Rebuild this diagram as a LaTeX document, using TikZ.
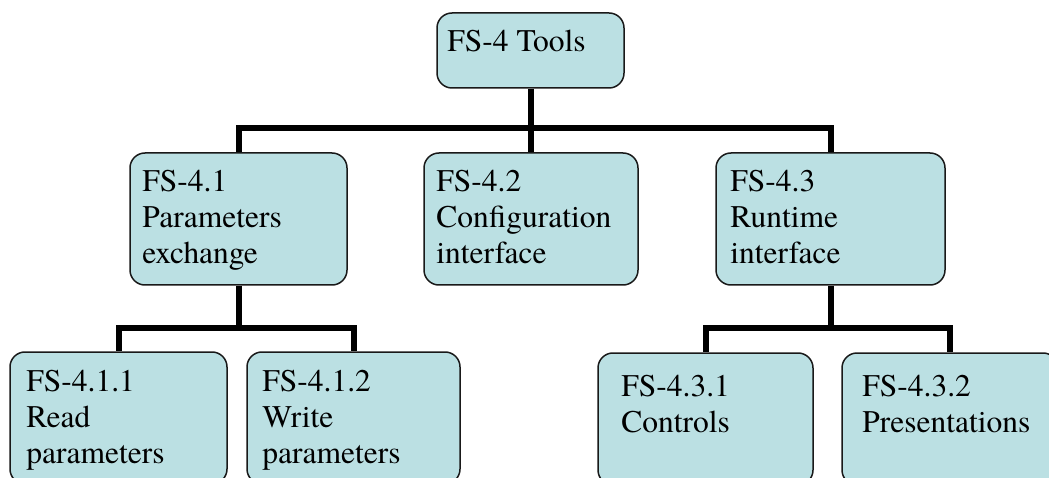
\documentclass[tikz,border=0pt]{standalone}
\usepackage{fontspec}
\setmainfont{TeX Gyre Termes}
\definecolor{boxfill}{RGB}{187,224,227}
\tikzset{
  box/.style={draw=black!90, line width=1.5pt, fill=boxfill, rounded corners=15pt,
    inner sep=0pt, minimum height=132pt},
  txt/.style={anchor=north west, inner sep=0pt, align=left,
    font=\fontsize{31.5}{36}\selectfont},
  tree/.style={line width=6pt}
}
\begin{document}
\begin{tikzpicture}[x=1pt,y=-1pt]
      \useasboundingbox (0,0) rectangle (1049,478);
      \clip (0,0) rectangle (1049,478);
      % boxes
      \draw
        (530.5,50.5) node[box, minimum width=187pt, minimum height=75pt] (tools){}
        (238.5,219) node[box, minimum width=217pt] (p41){}
        (531,219) node[box, minimum width=214pt] (p42){}
        (830.5,219) node[box, minimum width=229pt] (p43){}
        (118.5,418) node[box, minimum width=217pt] (p411){}
        (353.5,418) node[box, minimum width=213pt] (p412){}
        (705.5,419) node[box, minimum width=215pt] (p431){}
        (950,419) node[box, minimum width=216pt] (p432){};
      % texts
      \path
        (tools.north west) ++(11,17.5) node[txt] (tools-t){FS-4 Tools}
        (p41.north west) ++(13,17.5) node[txt] (p41-t){FS-4.1\\Parameters\\exchange}
        (p42.north west) ++(13,17.5) node[txt] (p42-t){FS-4.2\\Configuration\\interface}
        (p43.north west) ++(15,17.5) node[txt] (p43-t){FS-4.3\\Runtime\\interface}
        (p411.north west) ++(17,18.5) node[txt] (p411-t){FS-4.1.1\\Read\\parameters}
        (p412.north west) ++(16,18.5) node[txt] (p412-t){FS-4.1.2\\Write\\parameters}
        (p431.north west) ++(24,22.5) node[txt] (p431-t){FS-4.3.1\\Controls}
        (p432.north west) ++(21,22.5) node[txt] (p432-t){FS-4.3.2\\Presentations};
      \begin{scope}[tree]
        \coordinate (j0) at (tools.south |- 0,128);
        \coordinate (j1) at (p41.south |- 0,328);
        \coordinate (j3) at (p43.south |- 0,328);
        \draw (tools.south) -- (j0);
        \draw (j0) -| (p41.north);
        \draw (j0) -| (p42.north);
        \draw (j0) -| (p43.north);
        \draw (p41.south) -- (j1);
        \draw (j1) -| (p411.north);
        \draw (j1) -| (p412.north);
        \draw (p43.south) -- (j3);
        \draw (j3) -| (p431.north);
        \draw (j3) -| (p432.north);
      \end{scope}
    \end{tikzpicture}
\end{document}
